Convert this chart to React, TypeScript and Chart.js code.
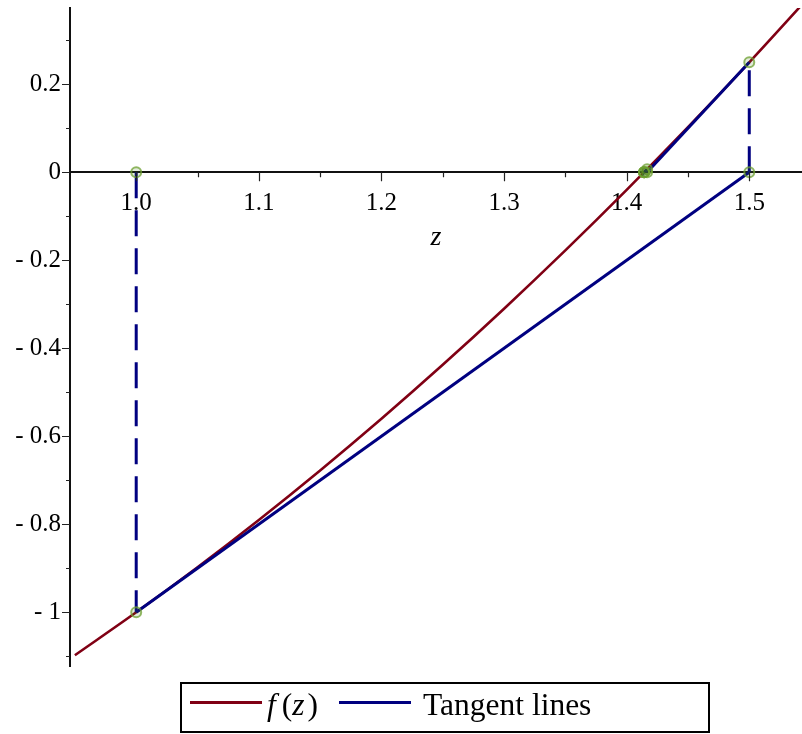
import React, { useEffect, useRef } from 'react';
import { Chart, registerables } from 'chart.js';

Chart.register(...registerables);

// f(z) = z^2 - 2 sampled along the plotted range
const curveZ = [0.95, 1.0, 1.05, 1.1, 1.15, 1.2, 1.25, 1.3, 1.35, 1.4, 1.45, 1.5, 1.55];
const curveF = [-1.0975, -1.0, -0.8975, -0.79, -0.6775, -0.56, -0.4375, -0.31, -0.1775, -0.04, 0.1025, 0.25, 0.4025];

// Newton iterates and function values at them
const newtonZ = [1.0, 1.5, 1.416667, 1.414216, 1.414214];
const newtonF = [-1.0, 0.25, 0.006944, 0.000006, 0.0];

const xMajorTicks = [1.0, 1.1, 1.2, 1.3, 1.4, 1.5];
const xMinorTicks = [1.05, 1.15, 1.25, 1.35, 1.45];
const xTickLabels = ['1.0', '1.1', '1.2', '1.3', '1.4', '1.5'];
const yMajorTicks = [-1.0, -0.8, -0.6, -0.4, -0.2, 0, 0.2];
const yMinorTicks = [-1.1, -0.9, -0.7, -0.5, -0.3, -0.1, 0.1, 0.3];
const yTickLabels = ['- 1', '- 0.8', '- 0.6', '- 0.4', '- 0.2', '0', '0.2'];
const xAxisTitle = 'z';

const X_MIN = 0.946;
const X_MAX = 1.543;
const Y_MIN = -1.122;
const Y_MAX = 0.3734;

const RED = '#800014';
const NAVY = '#000080';
const SERIF = '"Liberation Serif", "Times New Roman", serif';

const tickMarks = {
  id: 'tickMarks',
  afterDraw(chart: any) {
    const { ctx, chartArea } = chart;
    const xs = chart.scales.x;
    const ys = chart.scales.y;
    const y0 = ys.getPixelForValue(0);
    ctx.save();
    ctx.strokeStyle = '#222';
    ctx.lineWidth = 1.2;
    ctx.beginPath();
    xMajorTicks.forEach((v) => {
      const px = Math.round(xs.getPixelForValue(v)) + 0.5;
      ctx.moveTo(px, y0);
      ctx.lineTo(px, y0 + 9);
    });
    xMinorTicks.forEach((v) => {
      const px = Math.round(xs.getPixelForValue(v)) + 0.5;
      ctx.moveTo(px, y0);
      ctx.lineTo(px, y0 + 5);
    });
    yMajorTicks.forEach((v) => {
      const py = Math.round(ys.getPixelForValue(v)) + 0.5;
      ctx.moveTo(chartArea.left, py);
      ctx.lineTo(chartArea.left - 8, py);
    });
    yMinorTicks.forEach((v) => {
      const py = Math.round(ys.getPixelForValue(v)) + 0.5;
      ctx.moveTo(chartArea.left, py);
      ctx.lineTo(chartArea.left - 4, py);
    });
    ctx.stroke();
    // axis title, placed under the tick labels of the x-axis through y = 0
    ctx.fillStyle = '#000';
    ctx.font = 'italic 28px ' + SERIF;
    ctx.textAlign = 'center';
    ctx.textBaseline = 'middle';
    ctx.fillText(xAxisTitle, (chartArea.left + chartArea.right) / 2, y0 + 65);
    ctx.restore();
  },
};

const noPad = (scale: any) => {
  scale.paddingTop = 0;
  scale.paddingBottom = 0;
  scale.paddingLeft = 0;
  scale.paddingRight = 0;
};

export default function App() {
  const canvasRef = useRef<HTMLCanvasElement | null>(null);

  useEffect(() => {
    if (!canvasRef.current) return;
    const datasets: any[] = [];

    const markerPts: any[] = [];
    newtonZ.forEach((z, i) => {
      markerPts.push({ x: z, y: 0 });
      markerPts.push({ x: z, y: newtonF[i] });
    });
    datasets.push({
      label: 'points',
      data: markerPts,
      showLine: false,
      pointRadius: 5,
      pointBorderWidth: 2,
      pointBorderColor: 'rgba(110,160,50,0.75)',
      pointBackgroundColor: 'rgba(70,120,20,0.15)',
      order: 0,
    });

    for (let i = 0; i < newtonZ.length - 1; i++) {
      datasets.push({
        label: 'Tangent lines',
        data: [
          { x: newtonZ[i], y: newtonF[i] },
          { x: newtonZ[i + 1], y: 0 },
        ],
        showLine: true,
        borderColor: NAVY,
        borderWidth: 3,
        pointRadius: 0,
        order: 1,
      });
    }

    for (let i = 0; i < newtonZ.length; i++) {
      datasets.push({
        label: 'vertical',
        data: [
          { x: newtonZ[i], y: 0 },
          { x: newtonZ[i], y: newtonF[i] },
        ],
        showLine: true,
        borderColor: NAVY,
        borderWidth: 3,
        borderDash: [26, 12],
        pointRadius: 0,
        order: 2,
      });
    }

    datasets.push({
      label: 'f(z)',
      data: curveZ.map((z, i) => ({ x: z, y: curveF[i] })),
      showLine: true,
      borderColor: RED,
      borderWidth: 2.6,
      pointRadius: 0,
      cubicInterpolationMode: 'monotone',
      order: 3,
    });

    const chart = new Chart(canvasRef.current, {
      type: 'scatter',
      data: { datasets },
      plugins: [tickMarks],
      options: {
        animation: false,
        responsive: true,
        maintainAspectRatio: false,
        layout: { autoPadding: false, padding: { top: 8, right: 0, bottom: 68, left: 0 } } as any,
        plugins: {
          legend: { display: false },
          tooltip: { enabled: false },
        },
        scales: {
          x: {
            type: 'linear',
            min: X_MIN,
            max: X_MAX,
            position: { y: 0 } as any,
            afterBuildTicks: (scale: any) => {
              scale.ticks = xMajorTicks.map((v) => ({ value: v }));
            },
            afterFit: noPad,
            grid: { display: false },
            border: { display: true, color: '#111', width: 2 },
            ticks: {
              autoSkip: false,
              maxRotation: 0,
              padding: 8,
              color: '#000',
              font: { family: SERIF, size: 25 },
              callback: (_v: any, i: number) => xTickLabels[i],
            },
          },
          y: {
            type: 'linear',
            min: Y_MIN,
            max: Y_MAX,
            position: 'left',
            afterBuildTicks: (scale: any) => {
              scale.ticks = yMajorTicks.map((v) => ({ value: v }));
            },
            afterFit: (scale: any) => {
              scale.width = 70;
              noPad(scale);
            },
            grid: { display: false },
            border: { display: true, color: '#111', width: 2 },
            ticks: {
              autoSkip: false,
              padding: 1,
              color: '#000',
              font: { family: SERIF, size: 25 },
              callback: (_v: any, i: number) => yTickLabels[i],
            },
          },
        },
      },
    });
    return () => chart.destroy();
  }, []);

  const legendText: React.CSSProperties = {
    position: 'absolute',
    top: 690,
    fontFamily: SERIF,
    fontSize: 31.5,
    lineHeight: '30px',
    color: '#000',
    whiteSpace: 'nowrap',
  };

  return (
    <div style={{ position: 'fixed', left: 0, top: 0, width: 802, height: 734, background: '#fff' }}>
      <canvas ref={canvasRef} />
      <div
        style={{
          position: 'absolute',
          left: 180,
          top: 682,
          width: 530,
          height: 51,
          border: '2.5px solid #000',
          boxSizing: 'border-box',
        }}
      />
      <div style={{ position: 'absolute', left: 190, top: 701, width: 72, height: 3, background: RED }} />
      <div style={{ ...legendText, left: 267 }}>
        <i>f</i>
        <span style={{ marginLeft: 6 }}>(</span>
        <i>z</i>
        <span style={{ marginLeft: 3 }}>)</span>
      </div>
      <div style={{ position: 'absolute', left: 339, top: 701, width: 72, height: 3, background: NAVY }} />
      <div style={{ ...legendText, left: 423 }}>Tangent lines</div>
    </div>
  );
}
